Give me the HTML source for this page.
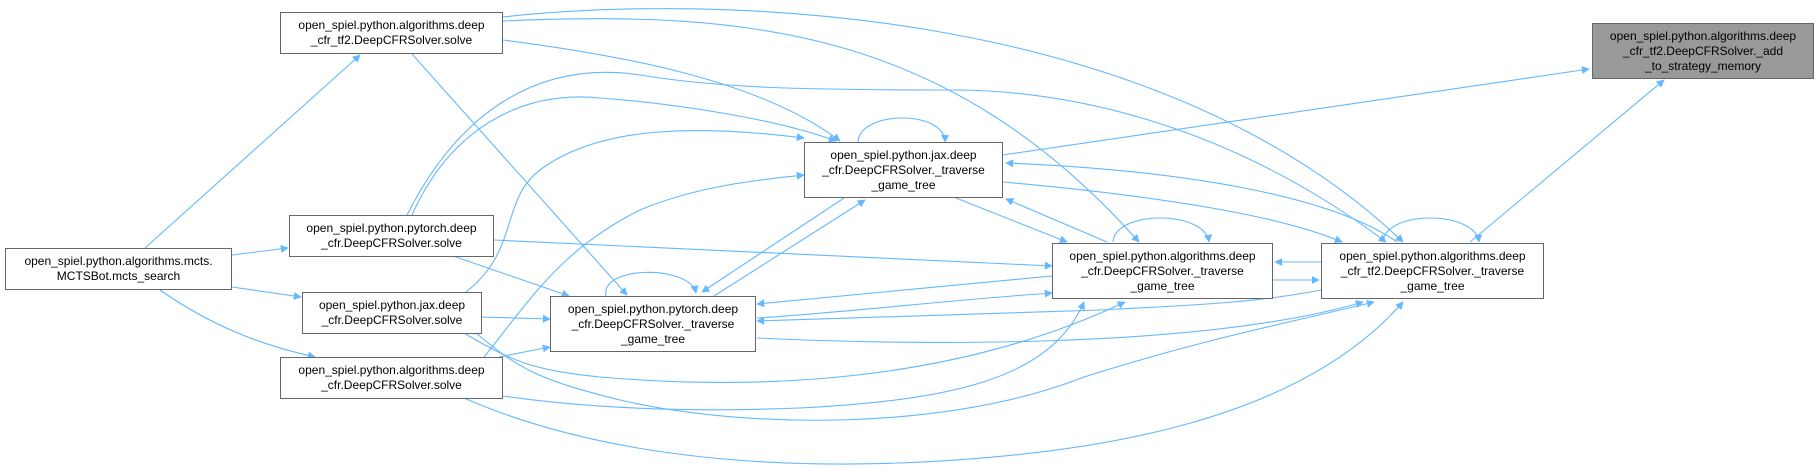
<!DOCTYPE html>
<html><head><meta charset="utf-8"><style>
body{margin:0;background:#fff;width:1820px;height:470px;overflow:hidden;position:relative;font-family:"Liberation Sans",Arial,sans-serif}
.n{position:absolute;box-sizing:border-box;border:1px solid #666;background:#fff;font-size:12px;line-height:15px;text-align:center;color:#000;display:flex;align-items:center;justify-content:center}
.g{background:#999}
svg{position:absolute;left:0;top:0}
</style></head><body>
<svg width="1820" height="470" viewBox="0 0 1820 470">
<defs><marker id="a" viewBox="0 0 10 10" refX="9" refY="5" markerWidth="8" markerHeight="8" orient="auto" markerUnits="userSpaceOnUse"><path d="M0,0 L10,5 L0,10 z" fill="#63b8ff"/></marker></defs>
<g fill="none" stroke="#63b8ff" stroke-width="1.1" marker-end="url(#a)">
<path d="M145,248 L360,55"/>
<path d="M232,255 L288,248"/>
<path d="M232,287 L301,297"/>
<path d="M160,290 C210,325 260,345 315,357"/>
<path d="M412,54 L627,295"/>
<path d="M503,17 C700,-5 1150,0 1403,242"/>
<path d="M503,21 C750,10 950,30 1139,242"/>
<path d="M503,40 C620,55 760,80 840,141"/>
<path d="M412,215 C450,130 520,90 600,98 C680,104 780,120 836,141"/>
<path d="M407,215 C460,110 540,60 640,75 C720,88 800,90 960,90 C1100,92 1250,140 1386,242"/>
<path d="M466,292 C520,250 500,200 540,170 C600,125 700,125 804,138"/>
<path d="M484,357 C530,300 560,250 640,210 C700,185 760,180 804,175"/>
<path d="M494,240 C700,250 900,258 1052,266"/>
<path d="M453,256 L569,296"/>
<path d="M482,317 L550,319"/>
<path d="M499,357 L550,347"/>
<path d="M464,333 C510,360 530,370 600,377 C750,390 950,385 1125,302"/>
<path d="M476,333 C520,370 540,380 620,400 C750,430 950,430 1084,377 C1200,340 1300,320 1374,302"/>
<path d="M503,396 C600,410 700,412 800,408 C950,400 1050,380 1084,302"/>
<path d="M464,398 C560,440 700,470 900,463 C1100,455 1300,420 1403,302"/>
<path d="M757,338 C900,345 1200,350 1363,302"/>
<path d="M1052,276 C950,285 850,295 757,304"/>
<path d="M757,318 C850,312 950,300 1052,293"/>
<path d="M1321,290 C1260,302 1200,305 1100,310 C950,315 850,318 757,321"/>
<path d="M844,198 L702,292"/>
<path d="M714,296 L865,200"/>
<path d="M956,198 L1067,242"/>
<path d="M1107,242 L1006,199"/>
<path d="M1003,155 L1589,69"/>
<path d="M1470,242 L1664,80"/>
<path d="M1397,242 C1330,195 1180,170 1006,163"/>
<path d="M1003,182 C1150,195 1280,215 1342,242"/>
<path d="M1321,262 L1275,262"/>
<path d="M1273,280 L1319,280"/>
<path d="M858,142 C860,110 945,110 945,142"/>
<path d="M606,296 C600,265 690,265 696,293"/>
<path d="M1113,242 C1115,210 1205,210 1209,242"/>
<path d="M1383,242 C1385,210 1475,210 1479,242"/>
</g>
</svg>
<div class="n" style="left:280px;top:12px;width:223px;height:42px">open_spiel.python.algorithms.deep<br>_cfr_tf2.DeepCFRSolver.solve</div>
<div class="n" style="left:289px;top:215px;width:205px;height:42px">open_spiel.python.pytorch.deep<br>_cfr.DeepCFRSolver.solve</div>
<div class="n" style="left:5px;top:248px;width:227px;height:42px">open_spiel.python.algorithms.mcts.<br>MCTSBot.mcts_search</div>
<div class="n" style="left:302px;top:292px;width:180px;height:42px">open_spiel.python.jax.deep<br>_cfr.DeepCFRSolver.solve</div>
<div class="n" style="left:280px;top:357px;width:223px;height:42px">open_spiel.python.algorithms.deep<br>_cfr.DeepCFRSolver.solve</div>
<div class="n" style="left:550px;top:296px;width:206px;height:56px">open_spiel.python.pytorch.deep<br>_cfr.DeepCFRSolver._traverse<br>_game_tree</div>
<div class="n" style="left:804px;top:142px;width:199px;height:56px">open_spiel.python.jax.deep<br>_cfr.DeepCFRSolver._traverse<br>_game_tree</div>
<div class="n" style="left:1052px;top:243px;width:221px;height:56px">open_spiel.python.algorithms.deep<br>_cfr.DeepCFRSolver._traverse<br>_game_tree</div>
<div class="n" style="left:1321px;top:243px;width:223px;height:56px">open_spiel.python.algorithms.deep<br>_cfr_tf2.DeepCFRSolver._traverse<br>_game_tree</div>
<div class="n g" style="left:1592px;top:23px;width:222px;height:56px">open_spiel.python.algorithms.deep<br>_cfr_tf2.DeepCFRSolver._add<br>_to_strategy_memory</div>
</body></html>
